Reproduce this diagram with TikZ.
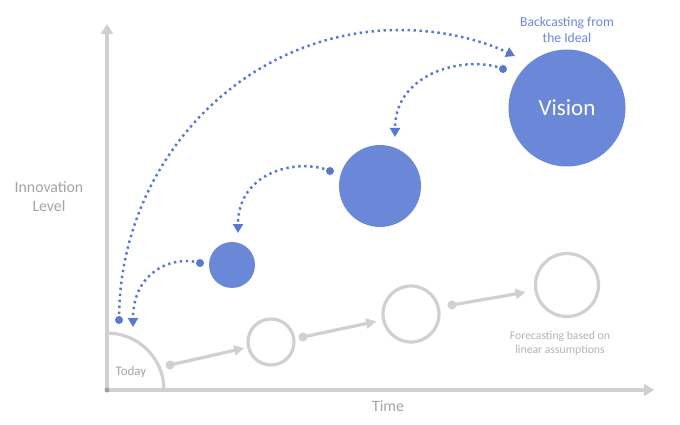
\documentclass[tikz,border=0pt]{standalone}
\usepackage{fontspec}
\setmainfont{Carlito}
\usetikzlibrary{arrows.meta}
\definecolor{vblue}{HTML}{6B88D8}
\definecolor{dblue}{HTML}{5A78CE}
\definecolor{lgray}{HTML}{D0D0D0}
\definecolor{tgray}{HTML}{A3A3A3}
\definecolor{fgray}{HTML}{B3B3B3}
\begin{document}
\begin{tikzpicture}[x=1pt,y=-1pt,
  bluec/.style={circle,fill=vblue,inner sep=0pt},
  grayc/.style={circle,draw=lgray,line width=3.2pt,inner sep=0pt},
  bdot/.style={circle,fill=dblue,inner sep=0pt,minimum size=8pt},
  gdot/.style={circle,fill=lgray,inner sep=0pt,minimum size=9pt},
  axisline/.style={draw=lgray,line width=3.5pt,-{Triangle[width=12pt,length=10pt]}},
  grayarrow/.style={draw=lgray,line width=3.2pt,-{Triangle[width=10pt,length=10pt]}},
  backarrow/.style={draw=dblue,line width=2.5pt,dash pattern=on 2.4pt off 3.6pt,-{Triangle[width=10pt,length=9pt]}},
  lbl/.style={text=tgray,align=center,inner sep=0pt}
]
\useasboundingbox (0,0) rectangle (680,425);
% axes
\coordinate (O) at (107,390);
\coordinate (ytip) at (107,24);
\coordinate (xtip) at (654,390);
\draw[axisline] (O) -- (ytip);
\draw[axisline] (O) -- (xtip);
\draw[lgray,line width=3.2pt] (164,390) arc[start angle=0,end angle=-90,radius=57];
\fill[gray!75] (O) circle (2.5);
% labels
\node[lbl,font=\fontsize{15.8}{19}\selectfont] (yl) at (49,197) {Innovation\\Level};
\node[lbl,font=\fontsize{15.8}{19}\selectfont] (tl) at (388,406) {Time};
\node[lbl,font=\fontsize{13}{16}\selectfont] (td) at (131,372) {Today};
\node[lbl,text=fgray,font=\fontsize{11.7}{14}\selectfont] (fc) at (560,343) {Forecasting based on\\linear assumptions};
\node[lbl,text=vblue,font=\fontsize{13.6}{16}\selectfont] (bt) at (567,30) {Backcasting from\\the Ideal};
% blue circles
\node[bluec,minimum size=46pt] (s1) at (232,265) {};
\node[bluec,minimum size=82pt] (s2) at (380,186) {};
\node[bluec,minimum size=117pt,text=white,font=\fontsize{23}{27}\selectfont] (vis) at (567,108) {Vision};
% gray circles
\node[grayc,minimum size=46pt] (g1) at (271,342) {};
\node[grayc,minimum size=56pt] (g2) at (411,314) {};
\node[grayc,minimum size=63pt] (g3) at (567,285) {};
% gray arrows
\node[gdot] (gd1) at (170,365) {};
\node[gdot] (gd2) at (303,337) {};
\node[gdot] (gd3) at (452,305) {};
\draw[grayarrow,shorten >=3pt] (gd1.center) -- (g1);
\draw[grayarrow,shorten >=6pt] (gd2.center) -- (g2);
\draw[grayarrow,shorten >=9pt] (gd3.center) -- (g3);
% backcasting arrows
\node[bdot] (a0) at (119,320) {};
\node[bdot] (b0) at (503,69) {};
\node[bdot] (c0) at (330,171) {};
\node[bdot] (d0) at (200,263) {};
\coordinate (ae) at (515,56);
\coordinate (be) at (395,137);
\coordinate (ce) at (238,233);
\coordinate (de) at (133,327);
\draw[backarrow] (a0.center) .. controls (119,160) and (245,30) .. (400,30)
   .. controls (440,30) and (479,39) .. (ae);
\draw[backarrow] (b0.center) .. controls (470,55) and (395,70) .. (be);
\draw[backarrow] (c0.center) .. controls (300,158) and (238,170) .. (ce);
\draw[backarrow] (d0.center) .. controls (175,255) and (133,270) .. (de);
\end{tikzpicture}
\end{document}
